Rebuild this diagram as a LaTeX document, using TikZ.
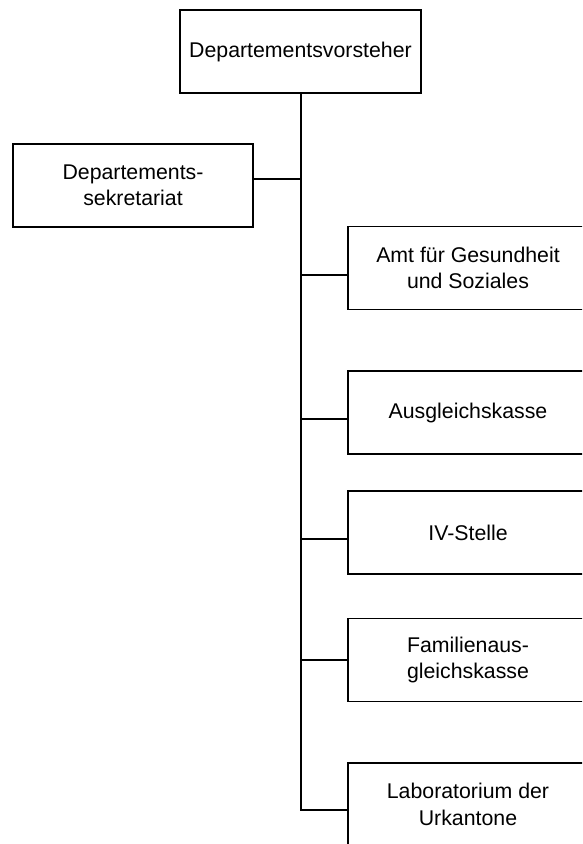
\documentclass[tikz,border=0pt]{standalone}
\usepackage{fontspec}
\setmainfont{Liberation Sans}
\begin{document}
\begin{tikzpicture}[x=1pt,y=-1pt,
  orgbox/.style={draw=black, line width=1.6pt, fill=white, minimum width=240pt, minimum height=83pt,
    inner sep=0pt, align=center, font=\fontsize{21.3}{26.5}\selectfont},
  conn/.style={draw=black, line width=1.6pt}]
\useasboundingbox (0,0) rectangle (582,844);
\clip (0,0) rectangle (582,844);
\fill[white] (0,0) rectangle (582,844);
% boxes
\node[orgbox, minimum width=241pt] (top) at (300.5,51.5) {Departementsvorsteher};
\node[orgbox] (sek) at (133,185.5) {Departements-\\sekretariat};
\node[orgbox] (amt) at (468,268) {Amt für Gesundheit\\und Soziales};
\node[orgbox] (aus) at (468,412.5) {Ausgleichskasse};
\node[orgbox] (iv) at (468,532.5) {IV-Stelle};
\node[orgbox] (fam) at (468,660) {Familienaus-\\gleichskasse};
\node[orgbox] (lab) at (468,804.5) {Laboratorium der\\Urkantone};
% junctions
\coordinate (t0) at (301,93);
\coordinate (j0) at (301,179);
\coordinate (j1) at (301,275);
\coordinate (j2) at (301,419);
\coordinate (j3) at (301,539);
\coordinate (j4) at (301,660);
\coordinate (j5) at (301,810);
% connectors
\draw[conn] (t0) -- (j5) -- (j5 -| lab.west);
\draw[conn] (j0) -- (j0 -| sek.east);
\draw[conn] (j1) -- (j1 -| amt.west);
\draw[conn] (j2) -- (j2 -| aus.west);
\draw[conn] (j3) -- (j3 -| iv.west);
\draw[conn] (j4) -- (j4 -| fam.west);
\end{tikzpicture}
\end{document}
